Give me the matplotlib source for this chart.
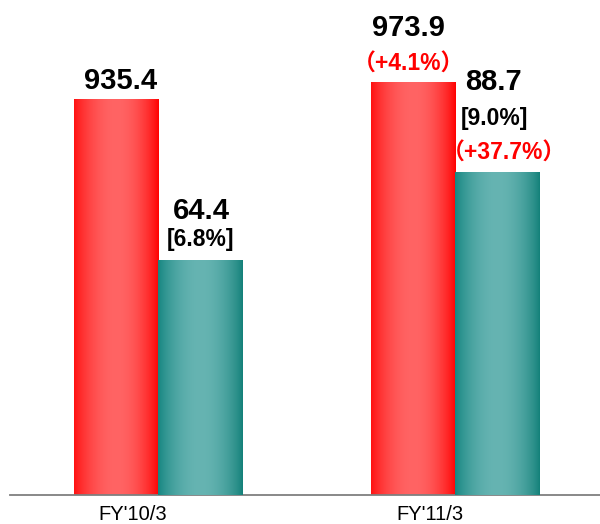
import numpy as np
import matplotlib
matplotlib.use("Agg")
import matplotlib.pyplot as plt
from matplotlib.colors import to_rgb

# Data
periods = ["FY'10/3", "FY'11/3"]
sales = [935.4, 973.9]
op_income = [64.4, 88.7]
margin_labels = ["[6.8%]", "[9.0%]"]
sales_growth = [None, "（+4.1%）"]
income_growth = [None, "（+37.7%）"]

W, H, DPI = 600, 524, 100
fig = plt.figure(figsize=(W / DPI, H / DPI), dpi=DPI)
ax_left_px, ax_right_px, base_px = 10, 600, 495
ax = fig.add_axes([ax_left_px / W, (H - base_px) / H, (ax_right_px - ax_left_px) / W, base_px / H])
ax2 = ax.twinx()

px_per_unit = 297.0
bar_w = 84.5 / px_per_unit
xlim = ((ax_left_px - 158) / px_per_unit, (ax_right_px - 158) / px_per_unit)
for a in (ax, ax2):
    a.set_yticks([])
    for s in a.spines.values():
        s.set_visible(False)
ax.spines['bottom'].set_visible(True)
ax.spines['bottom'].set_color('#7f7f7f')
ax.spines['bottom'].set_linewidth(1.3)
ax.set_xticks([])


def grad_img(edge_l, center, edge_r, n=200):
    t = np.linspace(0, 1, n)
    el, c, er = np.array(to_rgb(edge_l)), np.array(to_rgb(center)), np.array(to_rgb(edge_r))
    f = np.clip(np.sin(np.pi * t), 0, 1) ** 0.8
    edge = np.where(t[:, None] < 0.5, el, er)
    cols = edge + (c - edge) * f[:, None]
    return cols[None, :, :]

red_img = grad_img('#ff1010', '#ff6464', '#ff0000')
teal_img = grad_img('#148580', '#66b4b2', '#128079')

x = np.arange(len(periods))
for i in range(len(periods)):
    x0 = x[i] - bar_w
    ax.imshow(red_img, extent=(x0, x[i], 0, sales[i]), aspect='auto', zorder=2, interpolation='bilinear')
    ax2.imshow(teal_img, extent=(x[i], x[i] + bar_w, 0, op_income[i]), aspect='auto', zorder=2, interpolation='bilinear')
for a in (ax, ax2):
    a.set_xlim(*xlim)
ax.set_ylim(0, base_px / 0.4232)
ax2.set_ylim(0, base_px / 3.638)

fam = ['Liberation Sans', 'DejaVu Sans']
jfam = ['Liberation Sans', 'Noto Sans CJK JP', 'DejaVu Sans']
num_kw = dict(fontsize=21, fontweight='bold', ha='center', va='center', family=fam)
br_kw = dict(fontsize=16.5, fontweight='bold', ha='center', va='center', family=fam)
red_kw = dict(fontsize=16.5, fontweight='bold', ha='center', va='center', family=jfam, color='#ff0000')

pt = 72.0 / DPI
for i in range(len(periods)):
    rc = x[i] - bar_w / 2
    tc = x[i] + bar_w / 2
    # red bar labels
    if sales_growth[i]:
        ax.annotate(sales_growth[i], xy=(rc, sales[i]), xytext=(-4 * pt, 19 * pt), textcoords='offset points', **red_kw)
        ax.annotate(f"{sales[i]:.1f}", xy=(rc, sales[i]), xytext=(-4 * pt, 55 * pt), textcoords='offset points', **num_kw)
    else:
        ax.annotate(f"{sales[i]:.1f}", xy=(rc, sales[i]), xytext=(5 * pt, 18 * pt), textcoords='offset points', **num_kw)
    # teal bar labels
    if income_growth[i]:
        ax2.annotate(income_growth[i], xy=(tc, op_income[i]), xytext=(7 * pt, 19 * pt), textcoords='offset points', **red_kw)
        ax2.annotate(margin_labels[i], xy=(tc, op_income[i]), xytext=(-3 * pt, 54 * pt), textcoords='offset points', **br_kw)
        ax2.annotate(f"{op_income[i]:.1f}", xy=(tc, op_income[i]), xytext=(-4 * pt, 90 * pt), textcoords='offset points', **num_kw)
    else:
        ax2.annotate(margin_labels[i], xy=(tc, op_income[i]), xytext=(0, 21 * pt), textcoords='offset points', **br_kw)
        ax2.annotate(f"{op_income[i]:.1f}", xy=(tc, op_income[i]), xytext=(1 * pt, 50 * pt), textcoords='offset points', **num_kw)
    # period label
    ax.annotate(periods[i], xy=(x[i], 0), xytext=(-25 * pt, -20 * pt), textcoords='offset points',
                ha='center', va='center', fontsize=14.5, family=fam, color='#000000')

fig.savefig('out.png', dpi=DPI)
